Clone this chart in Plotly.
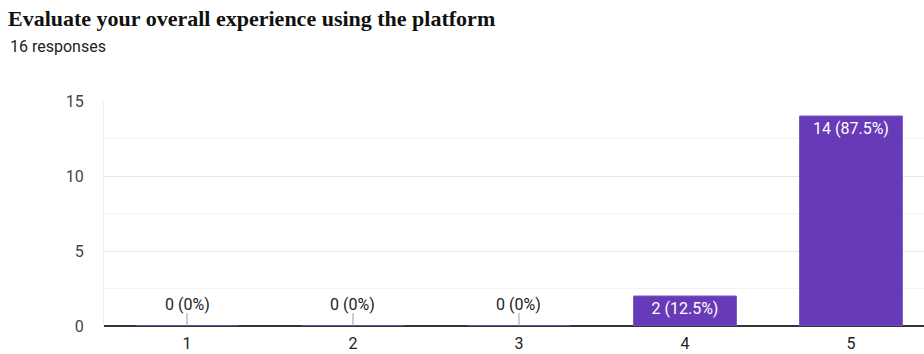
import plotly.graph_objects as go

categories = ["1", "2", "3", "4", "5"]
counts = [0, 0, 0, 2, 14]
total = 16
labels = [f"{c} ({c / total * 100:g}%)" for c in counts]
y_ticks = [0, 5, 10, 15]

BAR_COLOR = "#673ab7"
FONT = "Roboto, Arial, sans-serif"
x_pos = list(range(1, len(categories) + 1))

fig = go.Figure()
fig.add_trace(go.Bar(
    x=x_pos, y=counts,
    marker=dict(color=BAR_COLOR, line=dict(color="#7e57c2", width=1)),
    width=0.62,
    text=[l if c > 0 else "" for l, c in zip(labels, counts)],
    textposition="inside", insidetextanchor="end",
    textfont=dict(family=FONT, size=16, color="white"),
    cliponaxis=False, hoverinfo="skip",
))

# zero-value markers and labels
for x, c, l in zip(x_pos, counts, labels):
    if c == 0:
        fig.add_shape(type="line", xref="x", yref="y", x0=x, x1=x, y0=0, y1=0.85,
                      line=dict(color="#9e9e9e", width=1))
        fig.add_annotation(x=x, y=0, xref="x", yref="y", text=l, showarrow=False,
                           yanchor="bottom", yshift=10,
                           font=dict(family=FONT, size=16, color="#222"))

fig.add_annotation(x=0, y=1, xref="paper", yref="paper", text="16 responses", showarrow=False,
                   xanchor="left", yanchor="middle", xshift=-96, yshift=55,
                   font=dict(family=FONT, size=16, color="#222"))

fig.update_layout(
    width=924, height=354,
    margin=dict(l=104, r=0, t=101, b=28),
    paper_bgcolor="white", plot_bgcolor="white",
    showlegend=False,
    title=dict(text="<b>Evaluate your overall experience using the platform</b>",
               x=8 / 924, xref="container", xanchor="left", y=1 - 18 / 354, yref="container", yanchor="middle",
               font=dict(family="Liberation Serif, Times New Roman, serif", size=22, color="#111")),
    xaxis=dict(range=[0.5, 5.44], tickvals=x_pos, ticktext=categories, showgrid=False,
               zeroline=False, showline=False, ticks="", ticklabelstandoff=6,
               tickfont=dict(family=FONT, size=16, color="#222"),
               fixedrange=True),
    yaxis=dict(range=[0, 15], tickvals=y_ticks, showgrid=True, gridcolor="#e6e6e6", gridwidth=1,
               zeroline=True, zerolinecolor="#333", zerolinewidth=1.5,
               showline=True, linecolor="#eeeeee", linewidth=1, mirror=False, ticks="",
               ticklabelstandoff=16,
               minor=dict(tickvals=[2.5, 7.5, 12.5], showgrid=True, gridcolor="#f4f4f4", gridwidth=1),
               tickfont=dict(family=FONT, size=16, color="#444"),
               fixedrange=True),
)

fig.write_html("out.html")
